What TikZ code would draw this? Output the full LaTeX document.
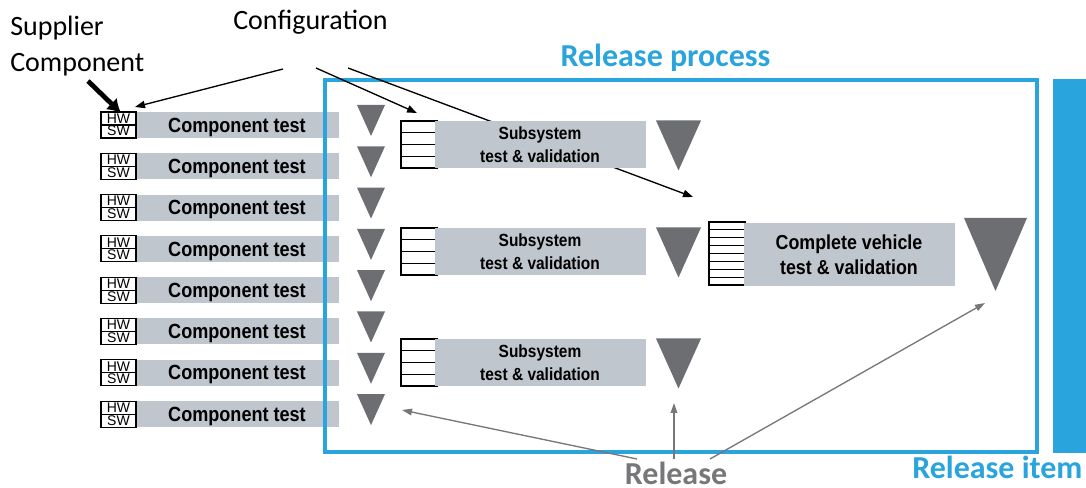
\documentclass[tikz,border=0pt]{standalone}
\usepackage{fontspec}
\setmainfont{Carlito}
\newfontfamily\arialfont{Liberation Sans}
\newfontfamily\narrowfont[FakeStretch=0.88]{Liberation Sans}
\usetikzlibrary{arrows.meta,calc}

\definecolor{relblue}{HTML}{29A4DC}
\definecolor{bargrey}{HTML}{BFC6CD}
\definecolor{gategrey}{HTML}{6D6E72}
\definecolor{relgrey}{HTML}{77777A}

\begin{document}
\begin{tikzpicture}[x=0.75pt,y=-0.75pt,
  bar/.style={fill=bargrey, inner sep=0pt, align=center},
  comptest/.style={bar, minimum width=153pt, minimum height=19.5pt,
    font=\narrowfont\bfseries\fontsize{15.4}{16}\selectfont},
  subtest/.style={bar, minimum width=158.25pt, minimum height=35.25pt,
    font=\narrowfont\bfseries\fontsize{13.2}{13.5}\selectfont},
  vehtest/.style={bar, minimum width=158.25pt, minimum height=47.25pt,
    font=\narrowfont\bfseries\fontsize{15.2}{15.5}\selectfont},
  hwsw/.style={draw, line width=0.8pt, fill=white, inner sep=0pt,
    minimum width=26.25pt, minimum height=19.5pt},
  hwlabel/.style={font=\arialfont\fontsize{10.5}{11}\selectfont, inner sep=0pt, anchor=base},
  stack/.style={draw, line width=0.9pt, fill=white, inner sep=0pt, minimum width=27pt},
  gate/.style={fill=gategrey},
  cfgarrow/.style={line width=1pt, -{Triangle[length=7.5pt,width=5.5pt]}},
  relarrow/.style={relgrey, line width=1pt, -{Triangle[length=7.5pt,width=5pt]}},
  calibri/.style={inner sep=0pt, anchor=base west, font=\fontsize{21}{25}\selectfont},
  bluetitle/.style={inner sep=0pt, text=relblue, font=\bfseries\fontsize{24}{28}\selectfont}
]
\useasboundingbox (0,0) rectangle (1086,488);

% component level: HW/SW block, test bar and release gate per row
\foreach \i in {0,...,7}{
  \pgfmathsetmacro\c{125+41.3*\i}
  \node[comptest, text depth=0pt] (ct\i) at (237,\c) {Component test};
  \node[hwsw] (hw\i) at (118.5,\c) {};
  \draw[line width=0.8pt] (hw\i.west) -- (hw\i.east);
  \node[hwlabel] (hwt\i) at (118.5,\c-1.6) {HW};
  \node[hwlabel] (swt\i) at (118.5,\c+11) {SW};
  \fill[gate] (357,\c-20) -- (385,\c-20) -- (371,\c+11) -- cycle;
}

% release process frame and release item bar
\node[draw=relblue, line width=3pt, minimum width=534pt, minimum height=279pt,
  inner sep=0pt] (frame) at (681,266) {};
\node[fill=relblue, minimum width=24.75pt, minimum height=280.5pt, inner sep=0pt]
  (itembar) at (1069.5,266) {};

% configuration arrows (the long one runs underneath the first subsystem bar)
\coordinate (cfgA) at (283,69);
\coordinate (cfgB) at (316,68);
\coordinate (cfgC) at (348,68);
\coordinate (hwtop) at (135,107);
\coordinate (subtop) at (417,113);
\coordinate (vehtop) at (693,197);
\draw[cfgarrow] (cfgA) -- (hwtop);
\draw[cfgarrow] (cfgB) -- (subtop);
\draw[cfgarrow] (cfgC) -- (vehtop);

% subsystem level
\foreach \c [count=\k] in {144.5,251.5,362.5}{
  \node[stack, minimum height=35.25pt] (st\k) at (419,\c) {};
  \foreach \f in {0.25,0.5,0.75}
    \draw[line width=0.9pt] ($(st\k.north west)!\f!(st\k.south west)$) -- ($(st\k.north east)!\f!(st\k.south east)$);
  \node[subtest] (sb\k) at (540,\c+0.5) {Subsystem\\[3.7pt]test \& validation};
  \fill[gate] (656,\c-24) -- (701,\c-24) -- (678.5,\c+26) -- cycle;
}

% complete vehicle level
\node[stack, minimum height=47.25pt] (cst) at (727,253.5) {};
\foreach \f in {1,...,7}
  \draw[line width=0.9pt] ($(cst.north west)!\f/8!(cst.south west)$) -- ($(cst.north east)!\f/8!(cst.south east)$);
\node[vehtest] (cvb) at (849,254.5) {Complete vehicle\\[3.5pt]test \& validation};
\fill[gate] (964,218) -- (1027,218) -- (995.5,291) -- cycle;

% labels
\node[calibri] (sup) at (10,36) {Supplier};
\node[calibri] (comp) at (10,72) {Component};
\node[calibri] (cfg) at (233,30) {Configuration};
\node[bluetitle, anchor=base] (proc) at (665.5,67) {Release process};
\node[bluetitle, anchor=base west] (item) at (912,479) {Release item};
\node[inner sep=0pt, anchor=base, text=relgrey, font=\bfseries\fontsize{24}{28}\selectfont]
  (rel) at (676,484) {Release};

% supplier arrow
\coordinate (supA) at (88,81);
\coordinate (supB) at (121,113);
\draw[line width=3.6pt, -{Latex[length=10pt,width=12pt]}] (supA) -- (supB);

% release arrows
\coordinate (relL) at (637,459);
\coordinate (relM) at (674,459);
\coordinate (relR) at (710,459);
\coordinate (gateC) at (402,410);
\coordinate (gateS) at (674,403);
\coordinate (gateV) at (985,303);
\draw[relarrow] (relL) -- (gateC);
\draw[relarrow] (relM) -- (gateS);
\draw[relarrow] (relR) -- (gateV);
\end{tikzpicture}
\end{document}
